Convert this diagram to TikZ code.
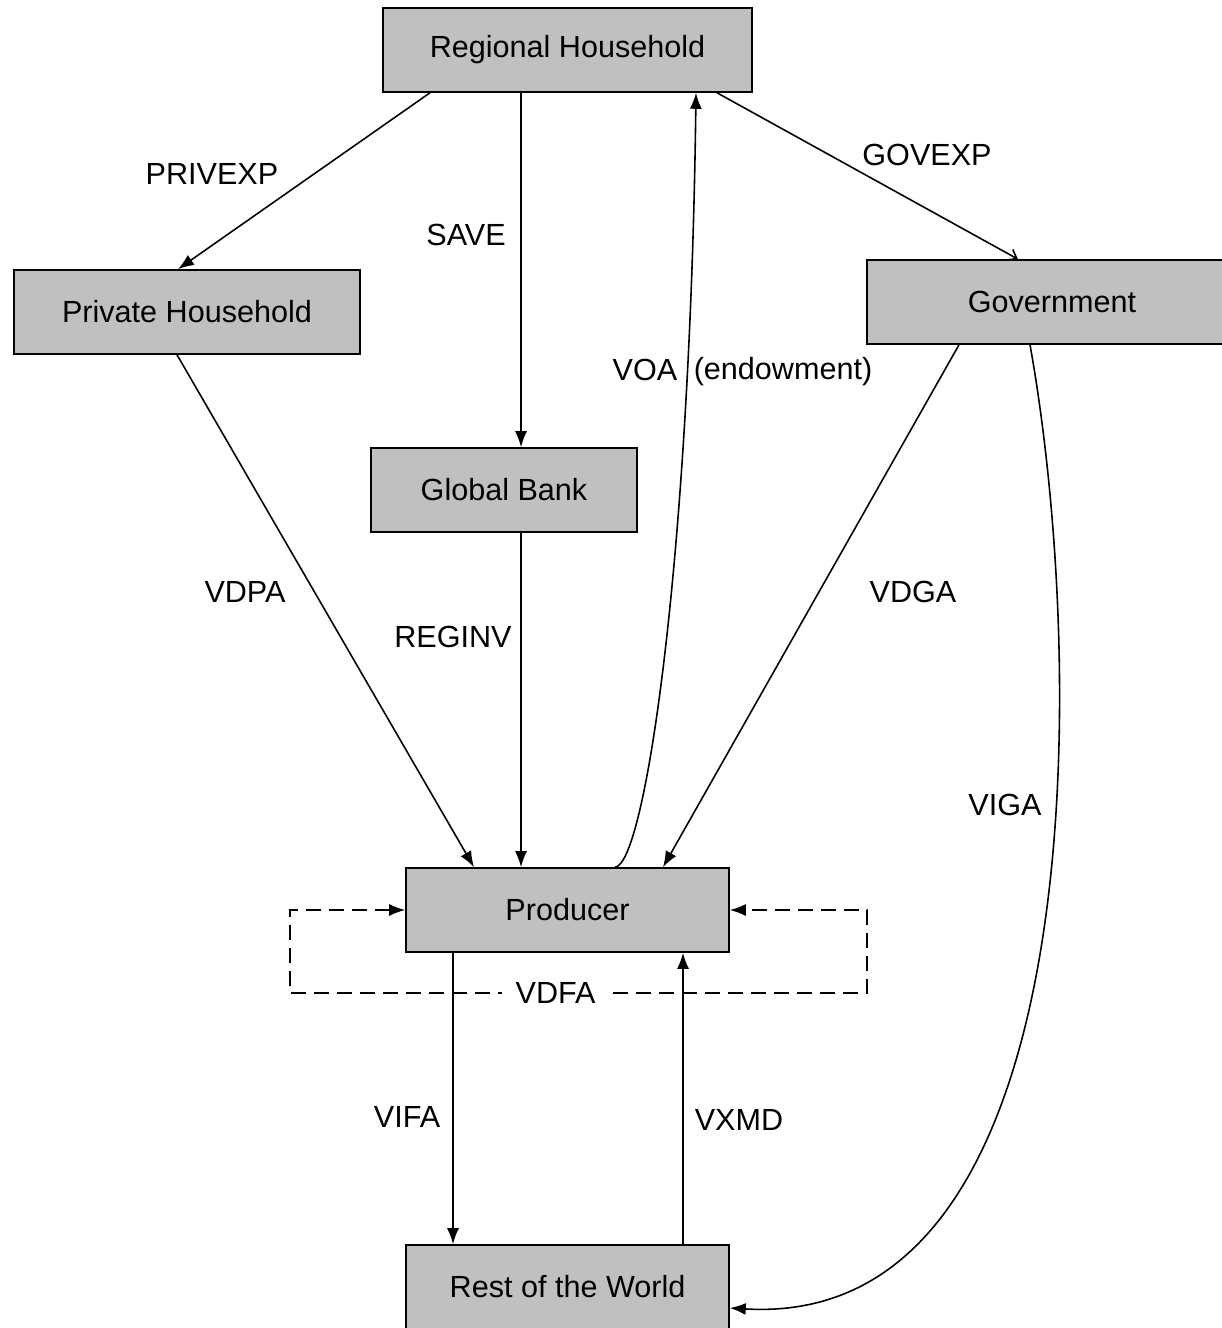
\documentclass[tikz,border=0pt]{standalone}
\usepackage{fontspec}
\setmainfont{Liberation Sans}
\usetikzlibrary{arrows.meta}
\newcommand{\px}{0.02cm}
\definecolor{boxgray}{HTML}{C0C0C0}

\begin{document}
\begin{tikzpicture}[rect/.style={draw, fill=boxgray, rectangle, minimum height=84*\px, inner sep=0pt, line width=0.9pt},
    flow/.style={line width=0.9pt, ->},
    lbl/.style={inner sep=0pt},
    >={Latex[length=3.2mm,width=2.4mm]},
    font=\fontsize{17.4}{20}\selectfont]
    \useasboundingbox (0,0) rectangle (1221*\px,-1328*\px);

    % Boxes
    \node[rect, minimum width=369*\px] (regional) at (567.5*\px,-50*\px) {Regional Household};
    \node[rect, minimum width=346*\px] (private) at (187*\px,-312*\px) {Private Household};
    \node[rect, minimum width=370*\px] (government) at (1052*\px,-302*\px) {Government};
    \node[rect, minimum width=266*\px] (bank) at (504*\px,-490*\px) {Global Bank};
    \node[rect, minimum width=323*\px] (producer) at (567.5*\px,-910*\px) {Producer};
    \node[rect, minimum width=323*\px] (world) at (567.5*\px,-1287*\px) {Rest of the World};

    % Flows
    \draw[flow] ([xshift=-137.5*\px]regional.south) -- ([xshift=-9*\px]private.north);
    \draw[flow] ([xshift=-46.5*\px]regional.south) -- ([xshift=17*\px]bank.north);
    \draw[line width=0.9pt, -{Straight Barb[length=1.6mm,width=2.4mm]}] ([xshift=149.5*\px]regional.south) -- ([xshift=-34*\px]government.north);
    \draw[flow] ([xshift=47.5*\px]producer.north) .. controls +(30*\px,2*\px) and +(-6*\px,-468*\px) .. ([xshift=128.5*\px]regional.south);
    \draw[flow] ([xshift=-10*\px]private.south) -- ([xshift=-93.5*\px]producer.north);
    \draw[flow] ([xshift=17*\px]bank.south) -- ([xshift=-46.5*\px]producer.north);
    \draw[flow] ([xshift=-93*\px]government.south) -- ([xshift=95.5*\px]producer.north);
    \draw[flow] ([xshift=-22*\px]government.south) .. controls +(55*\px,-306*\px) and +(369*\px,-22*\px) .. ([yshift=-21*\px]world.east);
    \draw[flow] ([xshift=-114.5*\px]producer.south) -- ([xshift=-114.5*\px]world.north);
    \draw[flow] ([xshift=115.5*\px]world.north) -- ([xshift=115.5*\px]producer.south);
    \draw[line width=0.9pt, <->, dash pattern=on 3mm off 1.6mm] (producer.west) -- ++(-115*\px,0) -- ++(0,-83*\px)
        -- node[pos=0.46, fill=white, inner xsep=0.28cm, inner ysep=0pt] (vdfa) {VDFA} ++(577*\px,0) -- ++(0,83*\px) -- (producer.east);

    % Labels
    \node[lbl] (privexp) at (212*\px,-174*\px) {PRIVEXP};
    \node[lbl] (save) at (466*\px,-235*\px) {SAVE};
    \node[lbl] (govexp) at (927*\px,-155*\px) {GOVEXP};
    \node[lbl] (voa) at (645*\px,-370*\px) {VOA};
    \node[lbl] (endow) at (783*\px,-372*\px) {(endowment)};
    \node[lbl] (vdpa) at (245*\px,-592*\px) {VDPA};
    \node[lbl] (reginv) at (453*\px,-637*\px) {REGINV};
    \node[lbl] (vdga) at (913*\px,-592*\px) {VDGA};
    \node[lbl] (viga) at (1005*\px,-805*\px) {VIGA};
    \node[lbl] (vifa) at (407*\px,-1117*\px) {VIFA};
    \node[lbl] (vxmd) at (739*\px,-1120*\px) {VXMD};

\end{tikzpicture}
\end{document}
